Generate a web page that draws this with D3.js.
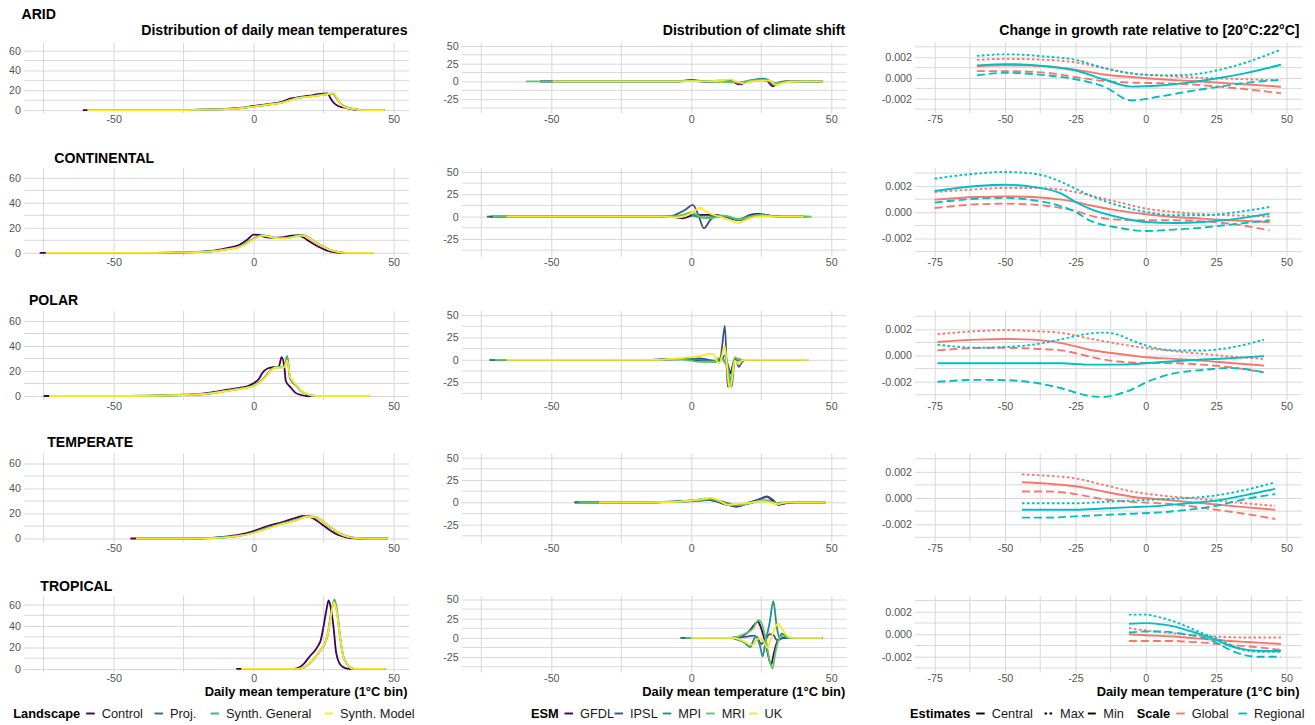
<!DOCTYPE html>
<html>
<head>
<meta charset="utf-8">
<script src="https://cdn.jsdelivr.net/npm/d3@7"></script>
<style>
  body { margin: 0; background: #fff; }
  svg { font-family: "Liberation Sans", Arial, Helvetica, sans-serif; }
</style>
</head>
<body>
<svg id="chart" width="1315" height="725"></svg>
<script>
// ---- categories ----
const regions = ["ARID", "CONTINENTAL", "POLAR", "TEMPERATE", "TROPICAL"];
const columnTitles = ["Distribution of daily mean temperatures", "Distribution of climate shift", "Change in growth rate relative to [20°C:22°C]"];
const axisTitle = "Daily mean temperature (1°C bin)";
const landscapes = ["Control", "Proj.", "Synth. General", "Synth. Model"];
const esms = ["GFDL", "IPSL", "MPI", "MRI", "UK"];
const estimates = ["Central", "Max", "Min"];
const scalesList = ["Global", "Regional"];

// ---- tick values ----
const xTicks = [-50, 0, 50];
const xMinorTicks = [-75, -25, 25];
const xTicksGrowth = [-75, -50, -25, 0, 25, 50];
const xMinorGrowth = [-62.5, -37.5, -12.5, 12.5, 37.5];
const yTicksTemp = [0, 20, 40, 60];
const yMinorTemp = [10, 30, 50];
const yTicksShift = [-25, 0, 25, 50];
const yMinorShift = [-37.5, -12.5, 12.5, 37.5];
const yTicksGrowth = [-0.002, 0, 0.002];
const yMinorGrowth = [-0.003, -0.001, 0.001, 0.003];

// ---- distribution of daily mean temperatures: [temp, share] per landscape ----
const tempArid = [
  [[-61,0],[-25,0],[-20,0.4],[-15,0.7],[-10,1.2],[-5,2.2],[0,4.2],[5,6],[10,8.3],[13,11.5],[16,13],[20,14.5],[23,16],[26.5,16.8],[27.3,12.8],[28.5,7.7],[30,4.4],[32,2.7],[35,1],[37,0.2],[40,0],[46.8,0]],
  [[-59.3,0],[-25,0],[-20,0.3],[-15,0.6],[-10,1],[-5,1.8],[0,3.7],[5,5.5],[10,7.6],[13,10.2],[16,12.6],[20,13.8],[24,15.3],[28.3,16.6],[29.5,12.5],[31.2,6],[33,3],[36,1.1],[38,0.3],[41,0],[46.8,0]],
  [[-59.3,0],[-25,0],[-20,0.3],[-15,0.6],[-10,1],[-5,1.9],[0,3.6],[5,5.4],[10,7.5],[13,10],[16,12.4],[20,13.7],[24,15.2],[28.5,16.7],[29.7,12.2],[31.4,5.5],[33,2.8],[36,1],[38,0.3],[41,0],[46.8,0]],
  [[-59.3,0],[-25,0],[-20,0.3],[-15,0.6],[-10,1],[-5,1.8],[0,3.5],[5,5.5],[10,7.3],[13,9.8],[16,12.3],[20,13.5],[24,15],[28.6,16.8],[30,11],[31.4,5],[33,2.7],[36,1],[38,0.2],[41,0],[46.8,0]]
];
const tempContinental = [
  [[-76.4,0],[-35,0],[-25,0.4],[-15,1.5],[-10,3.5],[-5,6.5],[-2,11],[0,14.5],[2,14.3],[4,12.6],[7,12],[10,12.3],[13,13.5],[16,14.2],[18,12],[20,9],[23,5],[26,2],[28,0.8],[31,0],[40,0]],
  [[-74.2,0],[-35,0],[-25,0.3],[-15,1.2],[-10,2.7],[-5,5],[-2,8.5],[1,12.5],[3,14],[5,13.3],[8,11.8],[11,11.8],[14,12.8],[17,14],[19,13],[21,10],[24,6],[27,2.5],[30,0.8],[33,0],[42.7,0]],
  [[-74.2,0],[-35,0],[-25,0.3],[-15,1.2],[-10,2.6],[-5,4.9],[-2,8.3],[1,12.3],[3,13.9],[5,13.4],[8,11.9],[11,11.7],[14,12.7],[17,14.1],[19,13.2],[21,10.2],[24,6.1],[27,2.6],[30,0.8],[33,0],[42.7,0]],
  [[-74.2,0],[-35,0],[-25,0.3],[-15,1.2],[-10,2.5],[-5,4.8],[-2,8],[1,12],[3,13.7],[5,13.2],[8,11.8],[11,11.6],[14,12.5],[17,13.8],[19,13],[21,10],[24,6],[27,2.5],[30,0.8],[33,0],[42.7,0]]
];
const tempPolar = [
  [[-75,0],[-45,0],[-35,0.3],[-25,1],[-20,1.5],[-15,2.8],[-10,4.8],[-5,6.5],[-2,8],[0,10.2],[2,14],[3,18],[5,22],[7,23],[9,23.5],[10,31],[11,23],[11.5,12],[13,7.5],[15,2.5],[17,0.8],[19,0],[41.5,0]],
  [[-73,0],[-45,0],[-35,0.2],[-25,0.8],[-20,1.2],[-15,2.2],[-10,4],[-5,5.8],[-2,7],[0,8.5],[2,11],[4,15],[6,20.5],[8,23],[10,23],[11,23.5],[12,30.5],[13,15],[14,11],[15,9],[17,4],[19,1.5],[21,0.3],[23,0],[41.5,0]],
  [[-73,0],[-45,0],[-35,0.2],[-25,0.8],[-20,1.2],[-15,2.2],[-10,4],[-5,5.7],[-2,6.9],[0,8.4],[2,10.8],[4,14.8],[6,20.3],[8,23],[10,23.2],[11,23.6],[12,32],[13,14],[14,10.5],[15,8.8],[17,3.8],[19,1.4],[21,0.3],[23,0],[41.5,0]],
  [[-73,0],[-45,0],[-35,0.2],[-25,0.8],[-20,1.2],[-15,2.1],[-10,3.8],[-5,5.5],[-2,6.7],[0,8.2],[2,10.5],[4,14.5],[6,20],[8,22.8],[10,22.8],[11,23],[12,28.5],[13,16],[14,12],[15,9.5],[17,4.2],[19,1.6],[21,0.3],[23,0],[41.5,0]]
];
const tempTemperate = [
  [[-44,0],[-22,0],[-15,0.5],[-10,1.5],[-5,3],[0,6],[5,10],[10,13],[15,16.5],[18,18],[21,16.5],[24,12],[27,7],[30,3],[33,1],[36,0.2],[40,0],[48,0]],
  [[-42,0],[-22,0],[-15,0.3],[-10,1],[-5,2.3],[0,4.8],[5,8.5],[10,12],[15,14.5],[19,17.5],[22,17],[25,13],[28,8],[31,3.5],[34,1.2],[37,0.3],[40,0],[48,0]],
  [[-42,0],[-22,0],[-15,0.3],[-10,1],[-5,2.2],[0,4.6],[5,8.3],[10,11.8],[15,14.6],[19,17.8],[22,17.3],[25,13.4],[28,8.3],[31,3.7],[34,1.3],[37,0.3],[40,0],[48,0]],
  [[-42,0],[-22,0],[-15,0.3],[-10,0.9],[-5,2.1],[0,4.4],[5,8],[10,11.5],[15,14.3],[19,17.3],[22,17],[25,13.2],[28,8.2],[31,3.6],[34,1.2],[37,0.3],[40,0],[48,0]]
];
const tempTropical = [
  [[-6.2,0],[13,0],[15,0.3],[18,5],[20,11.5],[22,17.5],[23,21.5],[24,27],[25,40],[26,55],[26.8,64],[27.5,58],[28.5,40],[29.5,15],[31,4],[33,0.6],[35,0],[47,0]],
  [[-4.4,0],[15,0],[17,0.5],[20,5],[22,11],[24,18],[25.5,24],[26.5,33],[27.5,49],[28.8,64],[30,49],[31,27],[32,12],[33.5,4],[35,0.6],[37,0],[47,0]],
  [[-4.4,0],[15,0],[17,0.5],[20,5],[22,11],[24,17.8],[25.5,23.8],[26.5,32.5],[27.5,48.5],[28.9,64.8],[30,50],[31,28],[32,12.5],[33.5,4.2],[35,0.6],[37,0],[47,0]],
  [[-4.4,0],[15,0],[17,0.5],[20,5],[22,11],[24,18],[25.5,24],[26.5,33],[27.5,47],[28.7,62.5],[30,48],[31,27],[32,12],[33.5,4],[35,0.6],[37,0],[47,0]]
];

// ---- distribution of climate shift: [temp, shift] per ESM ----
const shiftArid = [
  [[-54,0],[-5,0],[0,1.5],[5,-0.5],[10,0.5],[14,1],[17,-4],[20,-1],[25,2],[27,1],[29,-7],[31,-3],[34,0],[46.8,0]],
  [[-54,0],[-5,0],[0,2],[5,0],[10,1],[14,1.5],[17,-3.5],[20,0],[25,3],[27,2.5],[29,-5],[31,-2],[34,0],[46.8,0]],
  [[-54,0],[-5,0],[0,1],[5,0],[14,0.5],[17,-2],[20,0.5],[25,4],[27,3],[29,-3],[32,-2],[35,0],[46.8,0]],
  [[-59,0],[-5,0],[0,0.5],[10,-0.5],[14,-1],[17,-1],[20,0.5],[25,2],[28,1],[30,-3],[32,-2],[35,0.5],[38,0],[46.8,0]],
  [[-49.5,0],[-5,0],[0,0.5],[5,0],[10,1],[14,3],[16,0],[19,-3],[22,0],[26,1],[28,1],[30,-5],[33,-2],[36,-0.5],[40,0],[46.8,0]]
];
const shiftContinental = [
  [[-72,0],[-8,0],[-3,-2],[0,1],[4,2],[8,2],[12,0],[17,-4],[21,2],[24,3],[28,1],[32,0],[40,0]],
  [[-73,0],[-8,0],[-5,3],[-2,8],[0.5,13],[2.5,2],[4.5,-13],[7,-3],[9,0],[13,-1],[17,-3],[21,1],[25,2],[29,0.5],[33,0],[40,0]],
  [[-71,0],[-8,0],[-3,1],[-1,3],[2,0],[5,-1],[11,1],[14,-1],[17,-4],[21,-1],[24,1],[28,0.5],[32,0],[42,0]],
  [[-70.8,0],[-8,0],[-3,2],[0,5],[3,0],[6,-2],[10,0],[12,1],[17,-3],[21,0],[24,2],[28,1],[32,0],[43,0]],
  [[-66,0],[-10,0],[-5,-1],[-2,1],[1,6],[3,10],[5,6],[7,3],[10,0],[13,-3],[17,-7],[20,-3],[23,0],[26,0.5],[30,0],[40,0]]
];
const shiftPolar = [
  [[-72,0],[-15,0],[-5,1],[0,0],[5,-1],[8,-2],[10,0],[11,2],[12,-3],[13,-6],[14,-15],[15,-4],[16,1],[18,0],[41.7,0]],
  [[-72,0],[-15,0],[-5,1],[0,1],[3,1.5],[6,0],[9,-1],[10.5,3],[11,15],[12,38],[13,-30],[14,-29],[15,-3],[16,-1],[17,-8],[18,-3],[19,0],[41.7,0]],
  [[-72,0],[-15,0],[-5,0.5],[0,1],[5,-1],[9,-2],[11,1],[12,5],[13,-5],[14.5,-30],[15.5,2],[17,-1],[19,0],[41.7,0]],
  [[-70,0],[-15,0],[-5,0.5],[0,-1],[2,-2],[5,-2.5],[8,-2],[10,2],[11,1],[12,-2],[13,-10],[14,-28],[15.5,3],[17,0],[41.7,0]],
  [[-66,0],[-12,0],[-8,1],[-3,2],[0,3],[3,4],[5,5.5],[7.5,7],[10,-4],[12,15],[13.5,-30],[14,-31],[15.5,-1],[17,-5],[18,-1],[19,0],[41.7,0]]
];
const shiftTemperate = [
  [[-41.7,0],[-15,0],[-5,1],[0,2],[5,3],[9,1],[13,-3],[17,-4],[21,0],[25,4],[27,6],[29,2],[31,-3],[34,-1],[37,0],[48,0]],
  [[-41.7,0],[-15,0],[-5,1],[0,1.5],[5,4],[8,2],[12,-2],[16,-5],[20,-1],[24,3],[27,6.5],[29,3],[31,-2],[34,-1],[37,0],[48,0]],
  [[-41,0],[-15,0],[-5,0.5],[0,1],[4,2],[8,3],[12,0],[16,-3],[20,-2],[24,1],[27,2],[30,-1],[34,0],[48,0]],
  [[-40,0],[-15,0],[-5,1],[0,2],[4,3],[7,4],[10,1],[14,-3],[18,-3],[22,0],[26,2],[29,0],[32,-1],[35,0],[48,0]],
  [[-33,0],[-15,0],[-5,0.5],[0,2],[4,3.5],[7,5],[10,2],[13,-3],[16,-2],[20,-1],[25,1],[28,0],[31,-2],[34,0],[48,0]]
];
const shiftTropical = [
  [[-3,0],[14,0],[17,1],[19,4],[21,10],[22.5,17],[23.8,21],[25,12],[26,0],[27,-15],[28.5,-35],[29.5,-20],[31,-3],[33,0],[46.8,0]],
  [[-3.9,0],[14,0],[17,0.5],[20,1.5],[22,3],[23.5,1],[25,-8],[26.5,-2],[28,5],[29.5,3],[30.5,-3],[32,-1],[34,0],[46.8,0]],
  [[-2.4,0],[14,0],[17,-3],[19,-6],[21,-12],[22,-5],[23,2],[24.5,-10],[25.5,-24],[26.5,-5],[28,20],[29.3,48],[30.5,15],[31.5,0],[32.3,6],[33.5,2],[35,0],[46.8,0]],
  [[-2,0],[14,0],[17,2],[20,7],[22,12],[24,23],[25,20],[26.5,0],[28,-30],[29,-40],[30,-20],[31.5,0],[33,3],[35,0],[46.8,0]],
  [[0,0],[15,0],[17,-2],[19,-5],[20.5,-8],[22,-9],[23.8,-1],[25.6,-3],[27.1,-13],[28.6,1],[31,18.5],[32.7,10],[35,1],[37,0],[46.8,0]]
];

// ---- change in growth rate: x grid + [Global, Regional] x [Central, Max, Min] ----
const growthAridX = [-60,-50,-35,-25,-15,-5,5,15,25,35,48];
const growthArid = [
  [[0.00112,0.00122,0.00112,0.00081,0.00034,0.00009,-0.00012,-0.00028,-0.00044,-0.0006,-0.00084],
   [0.00175,0.00184,0.00175,0.0015,0.00097,0.00044,0.00025,0.00009,-0.00003,-0.00012,-0.00022],
   [0.00066,0.00066,0.0005,0.00009,-0.00028,-0.00044,-0.0005,-0.0006,-0.00081,-0.00106,-0.00147]],
  [[0.00122,0.00134,0.00112,0.00072,-0.00012,-0.00083,-0.00072,-0.00045,-0.00005,0.00045,0.00128],
   [0.00213,0.00228,0.00206,0.00175,0.00097,0.00044,0.00025,0.00031,0.00072,0.00144,0.00275],
   [0.00025,0.0005,0.00025,-0.00012,-0.00081,-0.00216,-0.00178,-0.0013,-0.00088,-0.00048,-0.00019]]
];
const growthContinentalX = [-75,-60,-50,-40,-30,-25,-20,-10,0,10,20,30,44];
const growthContinental = [
  [[0.00097,0.00117,0.00122,0.00117,0.00097,0.0008,0.00054,0.00015,-0.00015,-0.00036,-0.00048,-0.00061,-0.00074],
   [0.00155,0.00176,0.00186,0.00186,0.00173,0.00155,0.0013,0.00079,0.00028,0.00003,-0.00015,-0.00023,-0.00031],
   [0.00033,0.00061,0.00066,0.00059,0.00033,0.0001,-0.00023,-0.00056,-0.00061,-0.00061,-0.00069,-0.00087,-0.00138]],
  [[0.00163,0.00201,0.00211,0.00194,0.00143,0.00079,0.00028,-0.00036,-0.00074,-0.00082,-0.00074,-0.00056,-0.0001],
   [0.00257,0.00296,0.00308,0.00296,0.00232,0.0018,0.0013,0.00054,0.00003,-0.00023,-0.00023,-0.00005,0.00041],
   [0.00074,0.00104,0.0011,0.00092,0.00046,0.00003,-0.00061,-0.00117,-0.00143,-0.00132,-0.00117,-0.00094,-0.00061]]
];
const growthPolarX = [-74,-60,-50,-40,-30,-20,-15,-10,-5,0,10,20,30,42];
const growthPolar = [
  [[0.00103,0.00121,0.00126,0.00121,0.00095,0.00044,0.00027,0.00013,0,-0.00013,-0.00026,-0.00039,-0.00057,-0.00077],
   [0.00163,0.00186,0.00194,0.00186,0.00173,0.00129,0.0011,0.0009,0.00073,0.00057,0.00034,0.00013,-0.00008,-0.00026],
   [0.00039,0.00057,0.00059,0.00052,0.00039,-0.00008,-0.0003,-0.00046,-0.00053,-0.00057,-0.00059,-0.0007,-0.0009,-0.00129]],
  [[-0.00059,-0.00059,-0.00059,-0.00059,-0.00059,-0.0007,-0.0007,-0.0007,-0.00066,-0.00059,-0.00044,-0.00031,-0.00021,-0.00005],
   [0.00083,0.00059,0.00065,0.00083,0.00124,0.00168,0.00175,0.0016,0.00116,0.00077,0.00039,0.00038,0.0006,0.00121],
   [-0.00201,-0.00186,-0.00188,-0.00206,-0.0025,-0.0031,-0.00317,-0.00297,-0.0026,-0.00206,-0.00137,-0.00111,-0.00095,-0.00129]]
];
const growthTemperateX = [-44,-35,-25,-15,-5,5,15,25,35,46];
const growthTemperate = [
  [[0.0012,0.0011,0.0009,0.0005,0.0001,-0.0001,-0.0003,-0.0005,-0.0007,-0.0009],
   [0.0018,0.0017,0.0015,0.001,0.0005,0.0002,0,-0.0002,-0.0004,-0.0006],
   [0.0005,0.0005,0.0003,-0.0001,-0.0003,-0.0004,-0.0006,-0.0009,-0.0012,-0.0016]],
  [[-0.0009,-0.0009,-0.0009,-0.0008,-0.0007,-0.0006,-0.0004,-0.0002,0.0002,0.0007],
   [-0.0004,-0.0004,-0.0004,-0.0003,-0.0002,-0.0001,0,0.0002,0.0006,0.0012],
   [-0.0015,-0.0015,-0.0014,-0.0013,-0.0012,-0.0011,-0.0009,-0.0006,-0.0001,0.0003]]
];
const growthTropicalX = [-6,0,5,10,15,20,25,30,35,40,48];
const growthTropical = [
  [[0,-0.00009,-0.00015,-0.00021,-0.00032,-0.00042,-0.00051,-0.0006,-0.00068,-0.00075,-0.00087],
   [0.00054,0.00033,0.0002,0.00009,-0.00003,-0.00015,-0.00022,-0.00027,-0.00029,-0.0003,-0.0003],
   [-0.0006,-0.0006,-0.0006,-0.0006,-0.00068,-0.00075,-0.00085,-0.00096,-0.00106,-0.00117,-0.00141]],
  [[0.00093,0.00099,0.0009,0.00069,0.00033,-0.00006,-0.00051,-0.00105,-0.00135,-0.00147,-0.0015],
   [0.00174,0.00174,0.0015,0.00114,0.00063,0.00009,-0.00036,-0.00096,-0.00141,-0.00156,-0.00156],
   [0.00015,0.00024,0.00024,0.00015,-0.00006,-0.00027,-0.00075,-0.00141,-0.00186,-0.00201,-0.00201]]
];

const tempData = [tempArid, tempContinental, tempPolar, tempTemperate, tempTropical];
const shiftData = [shiftArid, shiftContinental, shiftPolar, shiftTemperate, shiftTropical];
const growthX = [growthAridX, growthContinentalX, growthPolarX, growthTemperateX, growthTropicalX];
const growthData = [growthArid, growthContinental, growthPolar, growthTemperate, growthTropical];

// ---- styling ----
const landscapeColors = ["#440154", "#31688E", "#35B779", "#FDE725"];
const esmColors = ["#440154", "#3B528B", "#21908C", "#5DC863", "#FDE725"];
const scaleColors = ["#F8766D", "#00BFC4"];
const estimateDash = [null, "2.6,2.4", "8,4"];
const gridColor = "#D8D8D8";
const tickColor = "#555555";

// ---- layout ----
const cols = [
  { left: 24, right: 409 },
  { left: 461.7, right: 846.7 },
  { left: 915, right: 1302 }
];
const rows = [
  { top: 42.7, bottom: 113.3, titleY: 19 },
  { top: 167.8, bottom: 256.8, titleY: 162.5 },
  { top: 311, bottom: 400, titleY: 304.5 },
  { top: 453.5, bottom: 542.5, titleY: 447 },
  { top: 596, bottom: 672.4, titleY: 590.5 }
];
const xDomain = [-82, 55.5];
const yDomainTemp = [-3.2, 68];
const yDomainShift = [-45, 54.6];
const yDomainGrowth = [-0.0034, 0.0034];

const svg = d3.select("#chart");
const plotLayer = svg.append("g");

const fmtInt = (d) => String(d);
const fmtGrowth = (d) => d.toFixed(3);

function drawPanel(col, row, cfg) {
  const g = plotLayer.append("g");
  const x = d3.scaleLinear().domain(xDomain).range([col.left, col.right]);
  const y = d3.scaleLinear().domain(cfg.yDomain).range([row.bottom, row.top]);
  const h = row.bottom - row.top;
  const w = col.right - col.left;

  // minor gridlines
  g.selectAll(".vminor").data(cfg.xMinor).join("line")
    .attr("x1", (d) => x(d)).attr("x2", (d) => x(d))
    .attr("y1", row.top).attr("y2", row.bottom)
    .attr("stroke", gridColor).attr("stroke-width", 1);
  g.selectAll(".hminor").data(cfg.yMinor).join("line")
    .attr("x1", col.left).attr("x2", col.right)
    .attr("y1", (d) => y(d)).attr("y2", (d) => y(d))
    .attr("stroke", gridColor).attr("stroke-width", 1);

  // major gridlines + labels via axes
  const xAxis = d3.axisBottom(x).tickValues(cfg.xTicks).tickFormat(fmtInt)
    .tickSize(-h).tickSizeOuter(0).tickPadding(2);
  const yAxis = d3.axisLeft(y).tickValues(cfg.yTicks).tickFormat(cfg.yFormat)
    .tickSize(-w).tickSizeOuter(0).tickPadding(3);

  const gx = g.append("g").attr("transform", `translate(0,${row.bottom})`).call(xAxis);
  const gy = g.append("g").attr("transform", `translate(${col.left},0)`).call(yAxis);
  [gx, gy].forEach((a) => {
    a.select(".domain").remove();
    a.selectAll("line").attr("stroke", gridColor).attr("stroke-width", 1);
    a.selectAll("text").attr("fill", tickColor).style("font-size", "10.7px")
      .style("font-family", '"Liberation Sans", Arial, sans-serif');
  });

  // series
  const line = d3.line().x((d) => x(d[0])).y((d) => y(d[1])).curve(d3.curveMonotoneX);
  cfg.series.forEach((s) => {
    g.append("path")
      .attr("d", line(s.points))
      .attr("fill", "none")
      .attr("stroke", s.color)
      .attr("stroke-width", s.width)
      .attr("stroke-dasharray", s.dash)
      .attr("stroke-linejoin", "round");
  });
}

regions.forEach((region, r) => {
  const row = rows[r];

  drawPanel(cols[0], row, {
    yDomain: yDomainTemp, xTicks, xMinor: xMinorTicks,
    yTicks: yTicksTemp, yMinor: yMinorTemp, yFormat: fmtInt,
    series: tempData[r].map((pts, i) => ({ points: pts, color: landscapeColors[i], width: 1.8, dash: null }))
  });

  drawPanel(cols[1], row, {
    yDomain: yDomainShift, xTicks, xMinor: xMinorTicks,
    yTicks: yTicksShift, yMinor: yMinorShift, yFormat: fmtInt,
    series: shiftData[r].map((pts, i) => ({ points: pts, color: esmColors[i], width: 1.8, dash: null }))
  });

  const gSeries = [];
  growthData[r].forEach((byEstimate, si) => {
    byEstimate.forEach((vals, ei) => {
      gSeries.push({
        points: vals.map((v, k) => [growthX[r][k], v]),
        color: scaleColors[si], width: 1.9, dash: estimateDash[ei]
      });
    });
  });
  drawPanel(cols[2], row, {
    yDomain: yDomainGrowth, xTicks: xTicksGrowth, xMinor: xMinorGrowth,
    yTicks: yTicksGrowth, yMinor: yMinorGrowth, yFormat: fmtGrowth,
    series: gSeries
  });

  // region title
  const t = svg.append("text")
    .attr("y", row.titleY)
    .style("font-size", "14.1px").style("font-weight", "bold").attr("fill", "#000")
    .text(region);
  const tw = t.node().getComputedTextLength();
  t.attr("x", 4.3 + tw / 2);
});

// column titles
columnTitles.forEach((title, c) => {
  svg.append("text")
    .attr("x", cols[c].right - (c === 2 ? 2.5 : 1.5)).attr("y", 34.5)
    .attr("text-anchor", "end")
    .style("font-size", "14.1px").style("font-weight", "bold")
    .text(title);
});

// x axis titles
cols.forEach((col, c) => {
  svg.append("text")
    .attr("x", col.right - (c === 2 ? 2.5 : 1.5)).attr("y", 695.5)
    .attr("text-anchor", "end")
    .style("font-size", "12.9px").style("font-weight", "bold")
    .text(axisTitle);
});

// ---- legends ----
const legendY = 718;
const keyY = 713.5;
function legendTitle(x, label) {
  svg.append("text").attr("x", x).attr("y", legendY)
    .style("font-size", "12.8px").style("font-weight", "bold").text(label);
}
function legendItem(textX, label, color, dash) {
  svg.append("line")
    .attr("x1", textX - 15.5).attr("x2", textX - 7)
    .attr("y1", keyY).attr("y2", keyY)
    .attr("stroke", color).attr("stroke-width", 1.9)
    .attr("stroke-dasharray", dash);
  svg.append("text").attr("x", textX).attr("y", legendY)
    .style("font-size", "12.8px").attr("fill", "#1a1a1a").text(label);
}

const legendLandscapeX = [101.7, 170, 226, 340];
const legendEsmX = [580, 630, 678.3, 721.7, 764.5];
const legendEstimateX = [991.7, 1060, 1103.3];
const legendScaleX = [1191.7, 1254];

legendTitle(13.3, "Landscape");
landscapes.forEach((l, i) => legendItem(legendLandscapeX[i], l, landscapeColors[i], null));

legendTitle(531, "ESM");
esms.forEach((l, i) => legendItem(legendEsmX[i], l, esmColors[i], null));

legendTitle(910, "Estimates");
estimates.forEach((l, i) => legendItem(legendEstimateX[i], l, "#000", estimateDash[i]));

legendTitle(1136.7, "Scale");
scalesList.forEach((l, i) => legendItem(legendScaleX[i], l, scaleColors[i], null));
</script>
